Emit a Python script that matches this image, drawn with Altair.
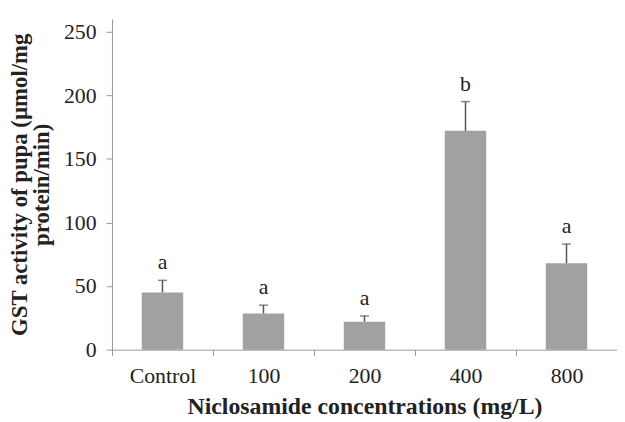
import altair as alt
import pandas as pd

categories = ["Control", "100", "200", "400", "800"]
means = [45, 28.5, 22, 172, 68]
errors = [9.5, 6.5, 4.5, 23, 15]
letters = ["a", "a", "a", "b", "a"]

df = pd.DataFrame({
    "cat": categories,
    "mean": means,
    "top": [m + e for m, e in zip(means, errors)],
    "letter": letters,
})

FONT = "Liberation Serif"

x = alt.X("cat:N", sort=categories, scale=alt.Scale(paddingInner=0.59, paddingOuter=0.295),
          axis=alt.Axis(title="Niclosamide concentrations (mg/L)", labelAngle=0,
                        tickBand="center", tickOffset=-51, labelOffset=51,
                        labelFontSize=22, titleFontSize=24,
                        labelPadding=10, titlePadding=8, titleFontWeight="bold", tickSize=6))
y = alt.Y("mean:Q", scale=alt.Scale(domain=[0, 250]),
          axis=alt.Axis(title=["GST activity of pupa (µmol/mg", "protein/min)"],
                        values=[0, 50, 100, 150, 200, 250], grid=False,
                        labelFontSize=22, titleFontSize=23, titleFontWeight="bold",
                        titleLineHeight=22,
                        labelPadding=10, titlePadding=10, tickSize=6))

base = alt.Chart(df)
bars = base.mark_bar(color="#a1a1a1").encode(x=x, y=y)
err = base.mark_rule(color="#555555", strokeWidth=1.5).encode(
    x=alt.X("cat:N", sort=categories), y="mean:Q", y2="top:Q")
cap = base.mark_tick(color="#555555", orient="horizontal", size=9, thickness=1.5).encode(
    x=alt.X("cat:N", sort=categories), y="top:Q")
txt = base.mark_text(font=FONT, fontSize=22, dy=-18, color="#222222").encode(
    x=alt.X("cat:N", sort=categories), y="top:Q", text="letter:N")

chart = alt.layer(bars, err, cap, txt).properties(
    width=510, height=334,
    autosize=alt.AutoSizeParams(type="none"),
    padding={"left": 105, "top": 9, "right": 0, "bottom": 70},
).configure_view(stroke=None).configure_axis(
    labelFont=FONT, titleFont=FONT, domainColor="#999999", tickColor="#999999",
    labelColor="#222222", titleColor="#222222", grid=False
)

chart.save("out.html", embed_options={"renderer": "svg", "actions": False})
